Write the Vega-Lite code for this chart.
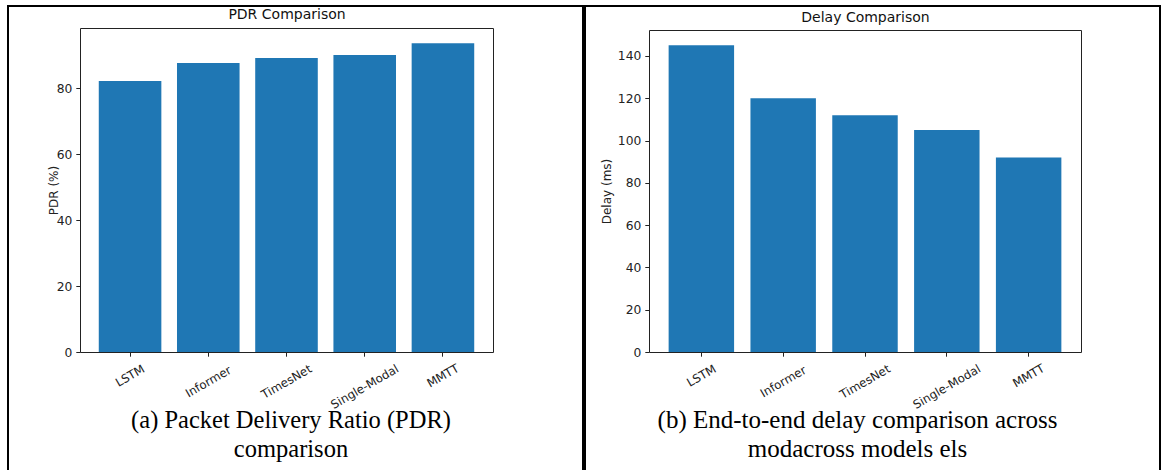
{
  "$schema": "https://vega.github.io/schema/vega-lite/v6.json",
  "padding": {"left": 7, "top": 5, "right": 0, "bottom": 0},
  "spacing": 0,
  "background": "white",
  "datasets": {
    "m": [
      {"model": "LSTM", "pdr": 82.1, "delay": 145},
      {"model": "Informer", "pdr": 87.6, "delay": 120},
      {"model": "TimesNet", "pdr": 89.1, "delay": 112},
      {"model": "Single-Modal", "pdr": 90.0, "delay": 105},
      {"model": "MMTT", "pdr": 93.6, "delay": 92}
    ]
  },
  "config": {
    "view": {"stroke": "black", "strokeWidth": 2},
    "font": "DejaVu Sans",
    "axis": {
      "grid": false,
      "domainColor": "#222",
      "domainWidth": 1,
      "tickColor": "#222",
      "tickSize": 4.2,
      "tickWidth": 1,
      "labelColor": "#222",
      "labelFont": "DejaVu Sans",
      "labelFontSize": 12.3,
      "labelPadding": 4,
      "titleColor": "#222",
      "titleFont": "DejaVu Sans",
      "titleFontSize": 12,
      "titleFontWeight": "normal"
    }
  },
  "hconcat": [
    {
      "width": 575,
      "height": 470,
      "data": {"name": "m"},
      "layer": [
        {
          "mark": {"type": "bar", "color": "#1f77b4"},
          "encoding": {
            "x": {
              "field": "model", "type": "nominal", "sort": null,
              "scale": {"range": [72, 485], "paddingInner": 0.2, "paddingOuter": 0.24},
              "axis": {
                "orient": "bottom", "offset": -124,
                "labelAngle": -30, "labelAlign": "center", "labelBaseline": "middle", "labelFontSize": 11.8,
                "labelPadding": {"condition": [{"test": "datum.label == 'Single-Modal'", "value": 30}, {"test": "datum.label == 'Informer' || datum.label == 'TimesNet'", "value": 25}], "value": 19},
                "title": ["(a) Packet Delivery Ratio (PDR)", "comparison"],
                "titleFont": "Liberation Serif", "titleFontSize": 24.5, "titleColor": "black",
                "titleX": 282.5, "titleY": 75, "titleBaseline": "alphabetic", "titleAlign": "center",
                "titleLineHeight": 29
              }
            },
            "y": {
              "field": "pdr", "type": "quantitative",
              "scale": {"domain": [0, 98.2], "nice": false, "range": [346, 22]},
              "axis": {
                "orient": "left", "offset": -72, "values": [0, 20, 40, 60, 80],
                "title": "PDR (%)", "titleX": -27, "titleBaseline": "middle", "titleAngle": 270
              }
            }
          }
        },
        {
          "mark": {"type": "bar", "opacity": 0},
          "encoding": {
            "x": {
              "field": "model", "type": "nominal", "sort": null,
              "axis": {
                "orient": "top", "offset": -22, "labels": false, "ticks": false,
                "title": "PDR Comparison", "titleY": -9.5, "titleBaseline": "alphabetic",
                "titleFontSize": 14, "titleColor": "#111"
              }
            },
            "y": {
              "field": "pdr", "type": "quantitative",
              "axis": {"orient": "right", "offset": -90, "labels": false, "ticks": false, "title": null}
            }
          }
        }
      ],
      "resolve": {"axis": {"x": "independent", "y": "independent"}}
    },
    {
      "width": 575,
      "height": 470,
      "data": {"name": "m"},
      "layer": [
        {
          "mark": {"type": "bar", "color": "#1f77b4"},
          "encoding": {
            "x": {
              "field": "model", "type": "nominal", "sort": null,
              "scale": {"range": [64, 496], "paddingInner": 0.2, "paddingOuter": 0.24},
              "axis": {
                "orient": "bottom", "offset": -124,
                "labelAngle": -30, "labelAlign": "center", "labelBaseline": "middle", "labelFontSize": 11.8,
                "labelPadding": {"condition": [{"test": "datum.label == 'Single-Modal'", "value": 30}, {"test": "datum.label == 'Informer' || datum.label == 'TimesNet'", "value": 25}], "value": 19},
                "title": ["(b) End-to-end delay comparison across", "modacross models els"],
                "titleFont": "Liberation Serif", "titleFontSize": 25, "titleColor": "black",
                "titleX": 272, "titleY": 75, "titleBaseline": "alphabetic", "titleAlign": "center",
                "titleLineHeight": 29
              }
            },
            "y": {
              "field": "delay", "type": "quantitative",
              "scale": {"domain": [0, 152.25], "nice": false, "range": [346, 24]},
              "axis": {
                "orient": "left", "offset": -64, "values": [0, 20, 40, 60, 80, 100, 120, 140],
                "title": "Delay (ms)", "titleX": -43, "titleBaseline": "middle", "titleAngle": 270
              }
            }
          }
        },
        {
          "mark": {"type": "bar", "opacity": 0},
          "encoding": {
            "x": {
              "field": "model", "type": "nominal", "sort": null,
              "axis": {
                "orient": "top", "offset": -24, "labels": false, "ticks": false,
                "title": "Delay Comparison", "titleY": -9, "titleBaseline": "alphabetic",
                "titleFontSize": 14, "titleColor": "#111"
              }
            },
            "y": {
              "field": "delay", "type": "quantitative",
              "axis": {"orient": "right", "offset": -79, "labels": false, "ticks": false, "title": null}
            }
          }
        }
      ],
      "resolve": {"axis": {"x": "independent", "y": "independent"}}
    }
  ]
}
